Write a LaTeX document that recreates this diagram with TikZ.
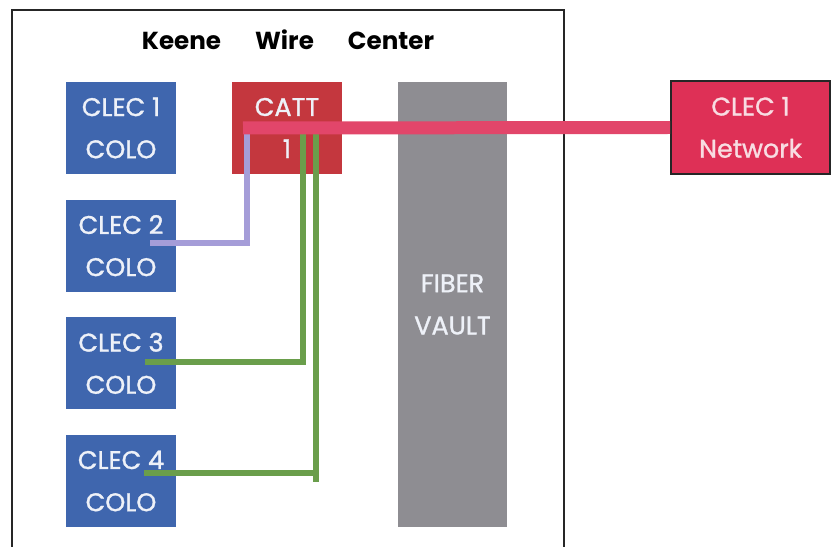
\documentclass[tikz,border=0pt]{standalone}
\usepackage{fontspec}
\setmainfont{Poppins}
\newfontfamily\boxfont{Poppins}[FakeBold=1.2]
\usepackage{xcolor}
\usepackage{tikz}
\usetikzlibrary{positioning,calc}
\definecolor{coloBlue}{HTML}{3F66AE}
\definecolor{cattRed}{HTML}{C4373E}
\definecolor{netRed}{HTML}{DE3056}
\definecolor{lineRed}{HTML}{E2466A}
\definecolor{vaultGray}{HTML}{8E8D92}
\definecolor{wireGreen}{HTML}{6A9E4B}
\definecolor{wirePurple}{HTML}{A59DD8}
\definecolor{textLight}{HTML}{EEF1F8}
\definecolor{textPink}{HTML}{F8DCE2}

\begin{document}
\begin{tikzpicture}[x=0.02cm, y=-0.02cm,
  colo/.style={rectangle, fill=coloBlue, text=textLight, minimum width=2.2cm, minimum height=1.84cm, inner sep=0pt, align=center, font=\boxfont\fontsize{14.5}{24}\selectfont},
  catt/.style={rectangle, fill=cattRed, text=textLight, minimum width=2.2cm, minimum height=1.84cm, inner sep=0pt, align=center, font=\boxfont\fontsize{14.5}{24}\selectfont},
  vault/.style={rectangle, fill=vaultGray, text=textLight, minimum width=2.18cm, minimum height=8.9cm, inner sep=0pt, align=center, font=\boxfont\fontsize{14.5}{24}\selectfont},
  network/.style={rectangle, fill=netRed, draw=black!85, line width=0.04cm, text=textPink, minimum width=3.18cm, minimum height=1.86cm, inner sep=0pt, align=center, font=\boxfont\fontsize{14.5}{24}\selectfont},
  redwire/.style={draw=lineRed, line width=0.26cm},
  purplewire/.style={draw=wirePurple, line width=0.13cm},
  greenwire/.style={draw=wireGreen, line width=0.12cm, line cap=rect}
]
\useasboundingbox (0,0) rectangle (831,547);
% wire center frame
\draw[line width=0.055cm, black!85] (12,560) -- (12,10) -- (564,10) -- (564,560);
\node[font=\fontsize{14}{16}\selectfont\bfseries] (title) at (288,40) {Keene\hspace{0.68cm}Wire\hspace{0.68cm}Center};

\node[colo] (clec1) at (121,128) {CLEC 1\\COLO};
\node[colo, below=0.5cm of clec1] (clec2) {CLEC 2\\COLO};
\node[colo, below=0.5cm of clec2] (clec3) {CLEC 3\\COLO};
\node[colo, below=0.5cm of clec3] (clec4) {CLEC 4\\COLO};
\node[catt] (catt) at (287,128) {CATT\\1};
\node[vault] (vault) at (452.5,304.5) {FIBER\\VAULT};
\node[network] (net) at (750.5,127.5) {CLEC 1\\Network};

% cross-connect ends
\coordinate (cattred) at (243,128);
\coordinate (purpletop) at (247,134);
\coordinate (green1top) at (303,134);
\coordinate (green2top) at (316,134);
\coordinate (green2bot) at (316,479);
\coordinate (clec2in) at (150,243);
\coordinate (clec3in) at (148,362);
\coordinate (clec4in) at (147,473);

\draw[purplewire] (purpletop) |- (clec2in);
\draw[greenwire] (green1top) |- (clec3in);
\draw[greenwire] (green2top) -- (green2bot);
\draw[greenwire] (clec4in) -- (clec4in -| green2bot);
\draw[redwire] (cattred) -- (net.west);
\end{tikzpicture}
\end{document}
